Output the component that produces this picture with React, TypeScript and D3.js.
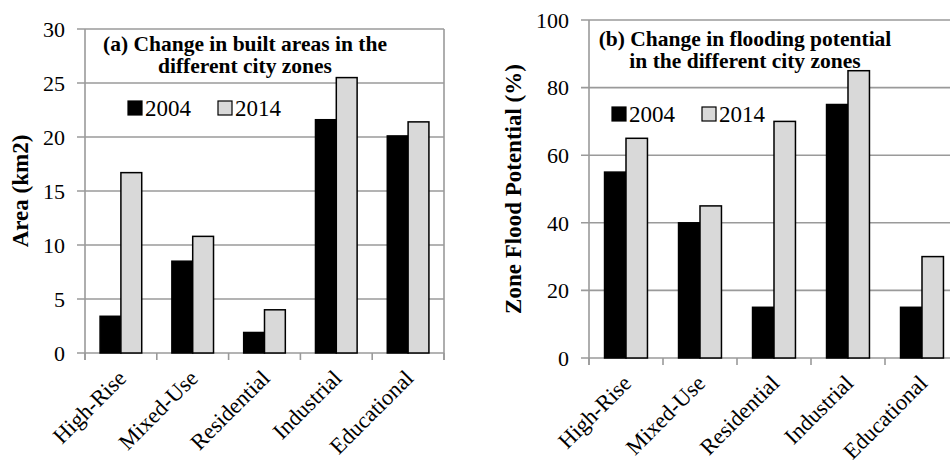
import React from "react";
import * as d3 from "d3";

const zones = ["High-Rise", "Mixed-Use", "Residential", "Industrial", "Educational"];
const years = ["2004", "2014"];

// (a) built area, km2
const built2004 = [3.4, 8.5, 1.9, 21.6, 20.1];
const built2014 = [16.7, 10.8, 4.0, 25.5, 21.4];
const builtTicks = [0, 5, 10, 15, 20, 25, 30];

// (b) flooding potential, %
const flood2004 = [55, 40, 15, 75, 15];
const flood2014 = [65, 45, 70, 85, 30];
const floodTicks = [0, 20, 40, 60, 80, 100];

const yearFill: Record<string, string> = { "2004": "#000000", "2014": "#d9d9d9" };

const FONT = "Liberation Serif, Times New Roman, serif";
const GRID = "#9a9a9a";

type PanelProps = {
  v2004: number[];
  v2014: number[];
  ticks: number[];
  left: number;
  right: number;
  top: number;
  bottom: number;
  titleLines: string[];
  titleX: number;
  titleY: number;
  legendX: number;
  legendY: number;
  yTitle: string;
  yTitleX: number;
};

function Panel(props: PanelProps) {
  const { v2004, v2014, ticks, left, right, top, bottom } = props;

  const x0 = d3.scaleBand().domain(zones).range([left, right]).paddingInner(0.42).paddingOuter(0.21);
  const x1 = d3.scaleBand().domain(years).range([0, x0.bandwidth()]);
  const y = d3.scaleLinear().domain([0, ticks[ticks.length - 1]]).range([bottom, top]);
  const step = (right - left) / zones.length;
  const bounds = d3.range(zones.length + 1).map((i) => left + i * step);

  const rows = zones.map((z, i) => ({ zone: z, vals: [v2004[i], v2014[i]] }));

  return (
    <g style={{ fontFamily: FONT }}>
      {/* gridlines + y ticks */}
      {ticks.map((t) => (
        <g key={t}>
          <line x1={left - 8} x2={right} y1={y(t)} y2={y(t)} stroke={GRID} strokeWidth={1.6} />
          <text x={left - 20} y={y(t)} dy="0.35em" textAnchor="end" fontSize={22} fill="#000">
            {t}
          </text>
        </g>
      ))}
      {/* frame */}
      <line x1={left} x2={left} y1={top} y2={bottom + 7} stroke={GRID} strokeWidth={1.6} />
      <line x1={right} x2={right} y1={top} y2={bottom + 7} stroke={GRID} strokeWidth={1.6} />
      {bounds.map((b, i) => (
        <line key={i} x1={b} x2={b} y1={bottom} y2={bottom + 7} stroke={GRID} strokeWidth={1.6} />
      ))}

      {/* bars */}
      {rows.map((r) => (
        <g key={r.zone} transform={`translate(${x0(r.zone)},0)`}>
          {years.map((yr, j) => (
            <rect
              key={yr}
              x={x1(yr)}
              y={y(r.vals[j])}
              width={x1.bandwidth()}
              height={bottom - y(r.vals[j])}
              fill={yearFill[yr]}
              stroke="#000"
              strokeWidth={1.5}
            />
          ))}
        </g>
      ))}

      {/* category labels */}
      {zones.map((z) => {
        const cx = (x0(z) as number) + x0.bandwidth() / 2;
        return (
          <text
            key={z}
            transform={`translate(${cx + 1},${bottom + 21}) rotate(-45)`}
            textAnchor="end"
            dy="0.35em"
            fontSize={22.5}
            fill="#000"
          >
            {z}
          </text>
        );
      })}

      {/* title */}
      <text x={props.titleX} y={props.titleY} textAnchor="middle" fontSize={21.5} fontWeight="bold" fill="#000">
        {props.titleLines.map((l, i) => (
          <tspan key={i} x={props.titleX} dy={i === 0 ? 0 : 22}>
            {l}
          </tspan>
        ))}
      </text>

      {/* legend */}
      {years.map((yr, i) => {
        const lx = props.legendX + i * 90;
        return (
          <g key={yr} transform={`translate(${lx},${props.legendY})`}>
            <rect x={0} y={-7} width={14} height={14} fill={yearFill[yr]} stroke="#000" strokeWidth={1.2} />
            <text x={17} dy="0.35em" fontSize={23} fill="#000">
              {yr}
            </text>
          </g>
        );
      })}

      {/* y title */}
      <text
        transform={`translate(${props.yTitleX},${(top + bottom) / 2}) rotate(-90)`}
        textAnchor="middle"
        dy="0.35em"
        fontSize={23}
        fontWeight="bold"
        fill="#000"
      >
        {props.yTitle}
      </text>
    </g>
  );
}

export default function App() {
  return (
    <div style={{ position: "absolute", left: 0, top: 0, width: 950, height: 466, background: "#fff" }}>
      <svg width={950} height={466} style={{ display: "block" }}>
        <Panel
          v2004={built2004}
          v2014={built2014}
          ticks={builtTicks}
          left={85}
          right={444}
          top={29}
          bottom={353}
          titleLines={["(a) Change in built areas in the", "different city zones"]}
          titleX={245}
          titleY={51}
          legendX={128}
          legendY={108}
          yTitle="Area (km2)"
          yTitleX={20}
        />
        <Panel
          v2004={flood2004}
          v2014={flood2014}
          ticks={floodTicks}
          left={589}
          right={959}
          top={20}
          bottom={358}
          titleLines={["(b) Change in flooding potential", "in the different city zones"]}
          titleX={745}
          titleY={46}
          legendX={612}
          legendY={114}
          yTitle="Zone Flood Potential (%)"
          yTitleX={513}
        />
      </svg>
    </div>
  );
}
